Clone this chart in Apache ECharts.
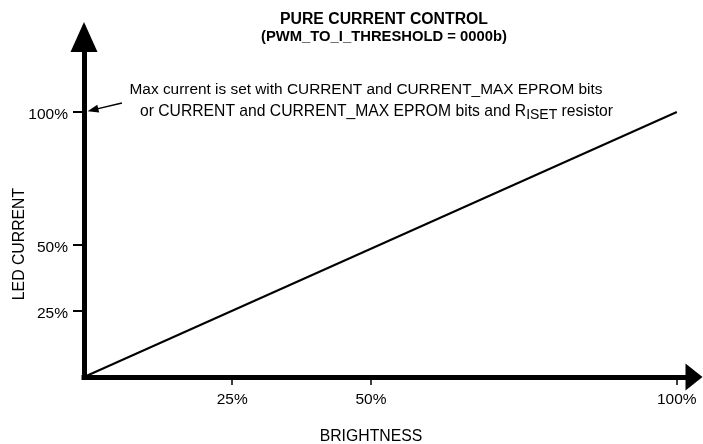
<!DOCTYPE html>
<html>
<head>
<meta charset="utf-8">
<script src="https://cdn.jsdelivr.net/npm/echarts@6/dist/echarts.min.js"></script>
<style>
html,body{margin:0;padding:0;background:#fff;}
#c{width:703px;height:444px;}
</style>
</head>
<body>
<div id="c"></div>
<script>
// Data
const brightness = [0, 100];
const ledCurrent = [0, 100];
const xTickValues = [25, 48.4, 100];
const xTickLabels = ['25%', '50%', '100%'];
const yTickValues = [25, 50, 100];
const yTickLabels = ['25%', '50%', '100%'];
const titleLines = ['PURE CURRENT CONTROL', '(PWM_TO_I_THRESHOLD = 0000b)'];
const xAxisName = 'BRIGHTNESS';
const yAxisName = 'LED CURRENT';
const noteLine1 = 'Max current is set with CURRENT and CURRENT_MAX EPROM bits';
const noteLine2a = 'or CURRENT and CURRENT_MAX EPROM bits and R';
const noteLine2sub = 'ISET';
const noteLine2b = ' resistor';
const noteArrowFrom = [6.4, 103.4];
const noteArrowTo = [1.5, 100.8];

const FONT = '"Liberation Sans", Arial, Helvetica, sans-serif';
const chart = echarts.init(document.getElementById('c'));

const xLabelMap = {}; xTickValues.forEach((v, i) => xLabelMap[v] = xTickLabels[i]);
const yLabelMap = {}; yTickValues.forEach((v, i) => yLabelMap[v] = yTickLabels[i]);

chart.setOption({
  animation: false,
  backgroundColor: '#fff',
  grid: { left: 84, right: 9, top: 37, bottom: 67, containLabel: false, outerBoundsMode: 'none' },
  xAxis: {
    type: 'value', min: 0, max: 102.9,
    name: xAxisName, nameLocation: 'middle', nameGap: 52,
    nameTextStyle: { color: '#000', fontSize: 15.8, fontFamily: FONT, padding: [0, 36, 0, 0] },
    axisLine: { show: true, onZero: false, symbol: ['none', 'triangle'], symbolSize: [27, 17],
      lineStyle: { color: '#000', width: 5, cap: 'square' } },
    axisTick: { show: true, length: 8, customValues: xTickValues, lineStyle: { color: '#000', width: 1.5 } },
    axisLabel: { show: true, margin: 15, customValues: xTickValues, color: '#000', fontSize: 15.5, fontFamily: FONT,
      formatter: v => xLabelMap[v] || '' },
    splitLine: { show: false }
  },
  yAxis: {
    type: 'value', min: 0, max: 128.3,
    axisLine: { show: true, onZero: false, symbol: ['none', 'triangle'], symbolSize: [27, 30],
      lineStyle: { color: '#000', width: 5, cap: 'square' } },
    axisTick: { show: true, length: 11, customValues: yTickValues, lineStyle: { color: '#000', width: 2 } },
    axisLabel: { show: true, margin: 16, customValues: yTickValues, color: '#000', fontSize: 15.5, fontFamily: FONT,
      lineHeight: 22, verticalAlign: 'top', padding: [-8, 0, 0, 0], formatter: v => yLabelMap[v] || '' },
    splitLine: { show: false }
  },
  series: [{
    type: 'line',
    data: brightness.map((x, i) => [x, ledCurrent[i]]),
    showSymbol: false, symbol: 'none',
    lineStyle: { color: '#000', width: 2 },
    markLine: {
      silent: true, animation: false,
      symbol: ['none', 'triangle'], symbolSize: [8, 11],
      lineStyle: { color: '#000', width: 1.5, type: 'solid' },
      label: { show: false },
      data: [[{ coord: noteArrowFrom }, { coord: noteArrowTo }]]
    }
  }],
  graphic: [
    { type: 'text', x: 384, y: 19.5, style: { text: titleLines[0], textAlign: 'center', textVerticalAlign: 'middle',
      font: 'bold 15.8px ' + FONT, fill: '#000' } },
    { type: 'text', x: 384, y: 36.5, style: { text: titleLines[1], textAlign: 'center', textVerticalAlign: 'middle',
      font: 'bold 14.8px ' + FONT, fill: '#000' } },
    { type: 'text', x: 20, y: 244, rotation: Math.PI / 2, style: { text: yAxisName, textAlign: 'center', textVerticalAlign: 'middle',
      font: '15.8px ' + FONT, fill: '#000' } },
    { type: 'text', x: 366, y: 90, style: { text: noteLine1, textAlign: 'center', textVerticalAlign: 'middle',
      font: '15.4px ' + FONT, fill: '#000' } },
    { type: 'text', x: 376.5, y: 111.5, style: {
      text: '{m|' + noteLine2a + '}{s|' + noteLine2sub + '}{m|' + noteLine2b + '}',
      textAlign: 'center', textVerticalAlign: 'middle', fill: '#000',
      rich: {
        m: { fontSize: 15.7, fontFamily: FONT, lineHeight: 22, verticalAlign: 'middle', fill: '#000' },
        s: { fontSize: 14, fontFamily: FONT, lineHeight: 14, verticalAlign: 'bottom', fill: '#000' }
      } } }
  ]
});
</script>
</body>
</html>
